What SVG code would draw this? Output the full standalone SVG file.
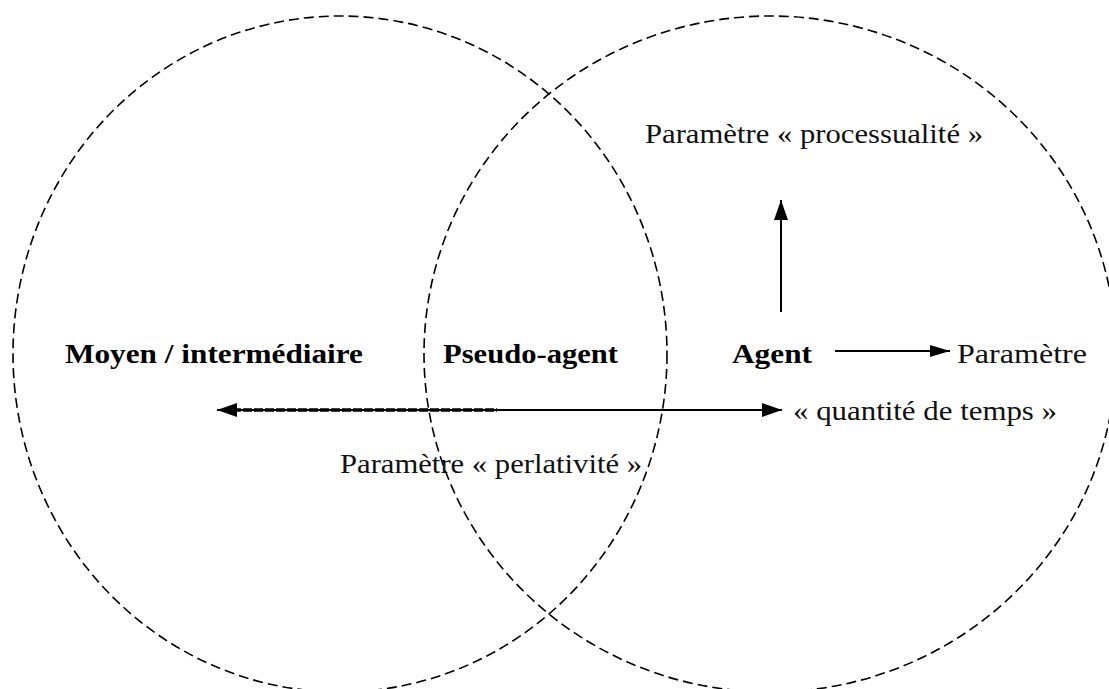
<svg xmlns="http://www.w3.org/2000/svg" width="1109" height="689" viewBox="0 0 1109 689">
<style>
.bg{fill:#fff}
.circ{fill:none;stroke:#000;stroke-width:1.6;stroke-dasharray:10 5}
.ln{stroke:#000;stroke-width:2;fill:none}
.thick{stroke:#000;stroke-width:3.5;fill:none;stroke-dasharray:9 2}
.b{font-family:"Liberation Serif","Times New Roman",serif;font-weight:bold;font-size:28px;fill:#000}
.r{font-family:"Liberation Serif","Times New Roman",serif;font-size:27px;fill:#111}
</style>
<defs>
<marker id="ah" viewBox="0 0 20 14" refX="20" refY="7" markerWidth="20" markerHeight="14" markerUnits="userSpaceOnUse" orient="auto-start-reverse">
<path d="M0,0 L20,7 L0,14 Z" fill="#000"/>
</marker>
<marker id="ahs" viewBox="0 0 20 12" refX="20" refY="6" markerWidth="20" markerHeight="12" markerUnits="userSpaceOnUse" orient="auto-start-reverse">
<path d="M0,0 L20,6 L0,12 Z" fill="#000"/>
</marker>
</defs>
<rect class="bg" x="0" y="0" width="1109" height="689"/>
<g id="circle-left"><ellipse class="circ" cx="340" cy="354" rx="327" ry="338"/></g>
<g id="circle-right"><ellipse class="circ" cx="770" cy="354" rx="346" ry="338"/></g>
<g id="connectors">
<line class="ln" x1="781" y1="312" x2="781" y2="200" marker-end="url(#ah)"/>
<line class="ln" x1="835" y1="351" x2="950" y2="351" marker-end="url(#ahs)"/>
<line class="ln" x1="217" y1="410" x2="782" y2="410" marker-start="url(#ah)" marker-end="url(#ah)"/>
<line class="thick" x1="232" y1="410" x2="497" y2="410"/>
</g>
<g id="node-moyen"><text class="b" x="65" y="363" textLength="298" lengthAdjust="spacingAndGlyphs">Moyen / intermédiaire</text></g>
<g id="node-pseudo-agent"><text class="b" x="443" y="363" textLength="175" lengthAdjust="spacingAndGlyphs">Pseudo-agent</text></g>
<g id="node-agent"><text class="b" x="732" y="363" textLength="80" lengthAdjust="spacingAndGlyphs">Agent</text></g>
<g id="node-parametre"><text class="r" x="957" y="363" textLength="130" lengthAdjust="spacingAndGlyphs">Paramètre</text></g>
<g id="node-quantite"><text class="r" x="793" y="420" textLength="264" lengthAdjust="spacingAndGlyphs">« quantité de temps »</text></g>
<g id="node-perlativite"><text class="r" x="340" y="473" textLength="302" lengthAdjust="spacingAndGlyphs">Paramètre « perlativité »</text></g>
<g id="node-processualite"><text class="r" x="645" y="143" textLength="338" lengthAdjust="spacingAndGlyphs">Paramètre « processualité »</text></g>
</svg>
